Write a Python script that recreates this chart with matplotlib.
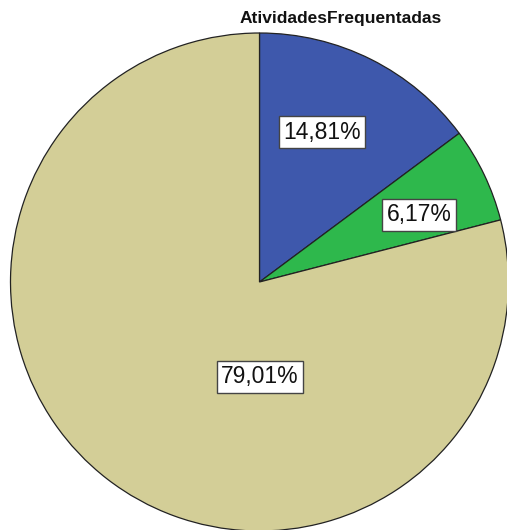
import matplotlib
matplotlib.use("Agg")
import matplotlib.pyplot as plt

title = "AtividadesFrequentadas"
counts = [12, 5, 64]
colors = ["#3e58ac", "#2eb84c", "#d3ce97"]
label_xy = [(322, 132), (419, 215), (260, 377)]  # pixel positions (layout)

W, H = 507, 530
fig = plt.figure(figsize=(W / 100, H / 100), dpi=100)
ax = fig.add_axes([0, 0, 1, 1])

cx, cy, r = 259.5, H - 282, 249


def fmt(p):
    return f"{p:.2f}".replace(".", ",") + "%"


wedges, texts, autotexts = ax.pie(
    counts, colors=colors, startangle=90, counterclock=False,
    center=(cx, cy), radius=r, autopct=fmt, frame=True,
    wedgeprops=dict(edgecolor="#222222", linewidth=0.9),
    textprops=dict(fontsize=16.5, family="Liberation Sans", color="#111111"),
)
ax.set_xlim(0, W)
ax.set_ylim(0, H)
ax.set_aspect("equal")
ax.axis("off")
for t, (x, y) in zip(autotexts, label_xy):
    t.set_position((x, H - y))
    t.set_ha("center")
    t.set_va("center")
    t.set_bbox(dict(boxstyle="square,pad=0.2", facecolor="white",
                    edgecolor="#444444", linewidth=1))

fig.text(341 / W, 1 - 18 / H, title, ha="center", va="center",
         fontsize=12.5, fontweight="bold", family="Liberation Sans", color="#111111")

fig.savefig("out.png", dpi=100)
